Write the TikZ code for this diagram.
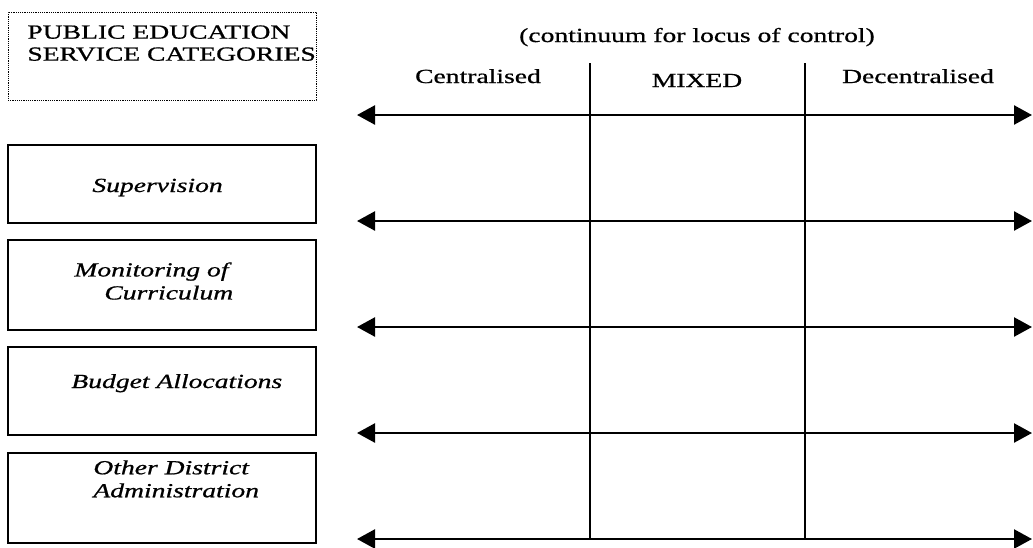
\documentclass[tikz,border=0pt]{standalone}
\usepackage{fontspec}
\setmainfont[FakeStretch=1.38,FakeBold=0.8]{Liberation Serif}
\usetikzlibrary{arrows.meta}

\begin{document}
\begin{tikzpicture}[x=0.5pt,y=-0.5pt,line join=miter,
    font=\fontsize{10}{11.5}\selectfont,
    catbox/.style={draw,line width=0.9pt,minimum width=154pt,inner sep=0pt},
    headbox/.style={draw,line width=0.5pt,dash pattern=on 0.6pt off 0.5pt,
        minimum width=154pt,minimum height=44pt,inner sep=0pt},
    catlabel/.style={anchor=north west,inner sep=0pt,align=left,font=\fontsize{10}{11.5}\selectfont\itshape},
    collabel/.style={anchor=base,inner sep=0pt},
    continuum/.style={line width=1.2pt,{Triangle[length=9pt,width=9.5pt]}-{Triangle[length=9pt,width=9.5pt]}},
    divider/.style={line width=1pt}]
        \useasboundingbox (0,0) rectangle (1033,547);

        \node[headbox] (head) at (162,56) {};
        \node[anchor=north west,inner sep=0pt,align=left,font=\fontsize{10}{11}\selectfont] (headtext) at (27,25)
            {PUBLIC EDUCATION\\SERVICE CATEGORIES};

        \node[catbox,minimum height=39pt] (supbox) at (162,184) {};
        \node[catbox,minimum height=45pt] (monbox) at (162,285) {};
        \node[catbox,minimum height=44pt] (budbox) at (162,391) {};
        \node[catbox,minimum height=45pt] (othbox) at (162,498) {};

        \node[catlabel,anchor=base west] (sup) at (92,192) {Supervision};
        \node[catlabel] (mon) at (74,262) {Monitoring of\\\hspace*{15pt}Curriculum};
        \node[catlabel,anchor=base west] (bud) at (71,388) {Budget Allocations};
        \node[catlabel] (oth) at (93,460) {Other District\\Administration};

        \node[collabel] (title) at (697,42) {(continuum for locus of control)};
        \node[collabel] (cen) at (478,83) {Centralised};
        \node[collabel] (mix) at (697,87) {MIXED};
        \node[collabel] (dec) at (918,83) {Decentralised};

        \foreach \i/\y in {1/115,2/221,3/327,4/433,5/539} {
            \coordinate (al\i) at (357,\y);
            \coordinate (ar\i) at (1032,\y);
            \draw[continuum] (al\i) -- (ar\i);
        }

        \coordinate (v1t) at (590,63);
        \coordinate (v1b) at (590,539);
        \coordinate (v2t) at (805,63);
        \coordinate (v2b) at (805,539);
        \draw[divider] (v1t) -- (v1b);
        \draw[divider] (v2t) -- (v2b);
\end{tikzpicture}
\end{document}
